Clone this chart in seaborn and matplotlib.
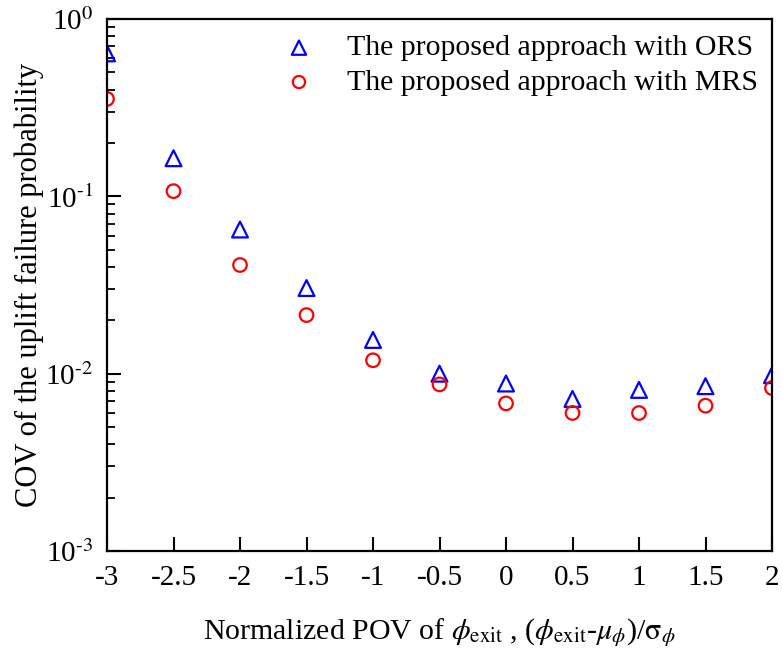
import matplotlib
matplotlib.use("Agg")
import matplotlib.pyplot as plt
import seaborn as sns
import numpy as np
import pandas as pd
from matplotlib.ticker import LogLocator, NullFormatter

x_vals = [-3.0, -2.5, -2.0, -1.5, -1.0, -0.5, 0.0, 0.5, 1.0, 1.5, 2.0]
cov_ors = [0.64, 0.164, 0.065, 0.0304, 0.0155, 0.0100, 0.0088, 0.0072, 0.0081, 0.0085, 0.0098]
cov_mrs = [0.354, 0.107, 0.041, 0.0214, 0.0119, 0.0087, 0.0068, 0.0060, 0.0060, 0.0066, 0.0083]
labels = ["The proposed approach with ORS", "The proposed approach with MRS"]
xtick_labels = ["-3", "-2.5", "-2", "-1.5", "-1", "-0.5", "0", "0.5", "1", "1.5", "2"]

sns.set_theme(style="white")
plt.rcParams['font.family'] = ['Liberation Serif', 'DejaVu Serif']
plt.rcParams['mathtext.fontset'] = 'stix'
for k in ['text.color', 'axes.labelcolor', 'xtick.color', 'ytick.color']:
    plt.rcParams[k] = 'black'

fig = plt.figure(figsize=(7.82, 6.57), dpi=100)
ax = fig.add_axes([107/782, 1-551/657, (772-107)/782, (551-19)/657])

df_o = pd.DataFrame({"x": x_vals, "y": cov_ors})
df_m = pd.DataFrame({"x": x_vals, "y": cov_mrs})
sns.scatterplot(data=df_o, x="x", y="y", marker="^", s=130, ax=ax, label=labels[0],
                color="blue", linewidth=1.6)
sns.scatterplot(data=df_m, x="x", y="y", marker="o", s=95, ax=ax, label=labels[1],
                color="red", linewidth=1.6)
for coll, c in zip(ax.collections, ["blue", "red"]):
    coll.set_facecolor("none")
    coll.set_edgecolor(c)

ax.set_yscale("log")
ax.set_xlim(-3, 2)
ax.set_ylim(1e-3, 1)
ax.set_xticks([-3, -2.5, -2, -1.5, -1, -0.5, 0, 0.5, 1, 1.5, 2])
ax.set_xticklabels(xtick_labels)
ax.yaxis.set_minor_locator(LogLocator(base=10, subs=np.arange(2, 10), numticks=20))
ax.yaxis.set_minor_formatter(NullFormatter())
ax.set_yticks([1e-3, 1e-2, 1e-1, 1])
ax.set_yticklabels(["10$^{\u20103}$", "10$^{\u20102}$", "10$^{\u20101}$", "10$^{0}$"])

ax.tick_params(axis="both", which="major", direction="in", length=10, width=1.5,
               labelsize=21, pad=10, left=True, bottom=True, top=False, right=False,
               colors="black")
ax.tick_params(axis="y", which="minor", direction="in", length=6, width=1.3, left=True, right=False)
for s in ax.spines.values():
    s.set_linewidth(1.6)
    s.set_color("black")

ax.set_xlabel(r"Normalized POV of $\phi_{\mathrm{exit}}$ , ($\phi_{\mathrm{exit}}$-$\mu_{\phi}$)/$\mathrm{\sigma}_{\phi}$",
              fontsize=21.5, labelpad=18, color="black")
ax.set_ylabel("COV of the uplift failure probability", fontsize=22, labelpad=1, color="black")

leg = ax.legend(loc="upper right", frameon=False, fontsize=21.5, handletextpad=0.9,
                handlelength=1.4, borderaxespad=0.3, labelspacing=0.25, markerscale=0.9,
                bbox_to_anchor=(1.01, 1.01))
for t in leg.get_texts():
    t.set_color("black")

fig.savefig("out.png", dpi=100)
